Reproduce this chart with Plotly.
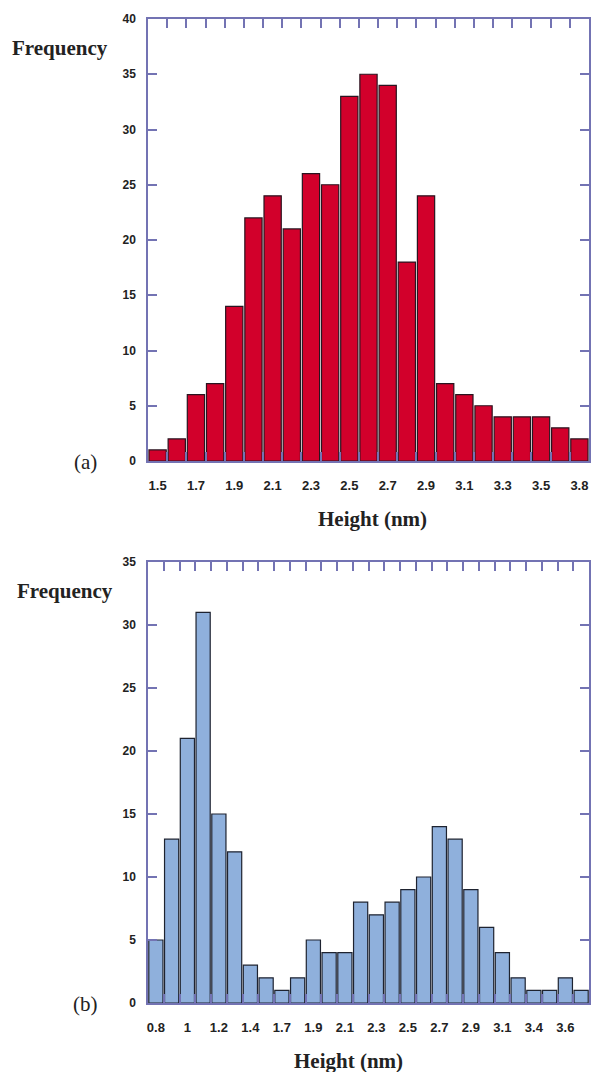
import plotly.graph_objects as go

# ---- data (a) ----
cats_a = ["1.5", "1.6", "1.7", "1.8", "1.9", "2.0", "2.1", "2.2", "2.3", "2.4", "2.5", "2.6",
          "2.7", "2.8", "2.9", "3.0", "3.1", "3.2", "3.3", "3.4", "3.5", "3.6", "3.8"]
freq_a = [1, 2, 6, 7, 14, 22, 24, 21, 26, 25, 33, 35, 34, 18, 24, 7, 6, 5, 4, 4, 4, 3, 2]
labels_a = ["1.5", "", "1.7", "", "1.9", "", "2.1", "", "2.3", "", "2.5", "", "2.7", "",
            "2.9", "", "3.1", "", "3.3", "", "3.5", "", "3.8"]

# ---- data (b) ----
cats_b = ["0.8", "0.9", "1", "1.1", "1.2", "1.3", "1.4", "1.5", "1.7", "1.8", "1.9", "2",
          "2.1", "2.2", "2.3", "2.4", "2.5", "2.6", "2.7", "2.8", "2.9", "3", "3.1", "3.2",
          "3.4", "3.5", "3.6", "3.7"]
freq_b = [5, 13, 21, 31, 15, 12, 3, 2, 1, 2, 5, 4, 4, 8, 7, 8, 9, 10, 14, 13, 9, 6, 4, 2,
          1, 1, 2, 1]
labels_b = ["0.8", "", "1", "", "1.2", "", "1.4", "", "1.7", "", "1.9", "", "2.1", "",
            "2.3", "", "2.5", "", "2.7", "", "2.9", "", "3.1", "", "3.4", "", "3.6", ""]

W, H = 592, 1072
AX = "#7373b3"
TXT = "#222222"

fig = go.Figure()
fig.add_trace(go.Bar(x=cats_a, y=freq_a, xaxis="x", yaxis="y",
                     marker=dict(color="#d2002b", line=dict(color="#2a1420", width=1.2))))
fig.add_trace(go.Bar(x=cats_b, y=freq_b, xaxis="x2", yaxis="y2",
                     marker=dict(color="#8fb0dc", line=dict(color="#1e2330", width=1.2))))


def px_x(p):
    return p / W


def px_y(p):
    return 1 - p / H


xdom = [px_x(148), px_x(589)]
common_x = dict(type="category", showline=True, linecolor=AX, linewidth=1.5, mirror="ticks",
                ticks="inside", ticklen=9, tickcolor=AX, tickwidth=1.5, tickson="boundaries",
                tickmode="array", showgrid=False, zeroline=False, fixedrange=True,
                tickangle=0, automargin=False,
                tickfont=dict(family="Liberation Sans", size=13, color=TXT, weight="bold"),
                ticklabelstandoff=12)
common_y = dict(showline=True, linecolor=AX, linewidth=1.5, mirror="ticks", ticks="inside",
                ticklen=9, tickcolor=AX, tickwidth=1.5, showgrid=False, zeroline=False,
                automargin=False, fixedrange=True,
                tickfont=dict(family="Liberation Sans", size=12, color=TXT, weight="bold"),
                ticklabelstandoff=8, dtick=5, tick0=0)

fig.update_layout(
    width=W, height=H, margin=dict(l=0, r=0, t=0, b=0),
    paper_bgcolor="white", plot_bgcolor="white", showlegend=False,
    bargap=0.1,
    xaxis=dict(common_x, domain=xdom, anchor="y", tickvals=cats_a, ticktext=labels_a),
    yaxis=dict(common_y, domain=[px_y(461), px_y(19)], anchor="x", range=[0, 40]),
    xaxis2=dict(common_x, domain=xdom, anchor="y2", tickvals=cats_b, ticktext=labels_b),
    yaxis2=dict(common_y, domain=[px_y(1003), px_y(562)], anchor="x2", range=[0, 35]),
)

serif_b = dict(family="Liberation Serif", size=21, color=TXT, weight="bold")
serif = dict(family="Liberation Serif", size=21, color=TXT)
ann = [
    ("Frequency", 60, 48, serif_b),
    ("Frequency", 65, 591, serif_b),
    ("Height (nm)", 372, 519, serif_b),
    ("Height (nm)", 348, 1061, serif_b),
    ("(a)", 85, 462, serif),
    ("(b)", 85, 1004, serif),
]
for text, x, y, f in ann:
    fig.add_annotation(text=text, x=px_x(x), y=px_y(y), xref="paper", yref="paper",
                       xanchor="center", yanchor="middle", showarrow=False, font=f)

fig.write_html(
    "out.html",
    config={"displayModeBar": False},
    post_script="document.body.style.margin='0';document.body.style.overflow='hidden';",
)
